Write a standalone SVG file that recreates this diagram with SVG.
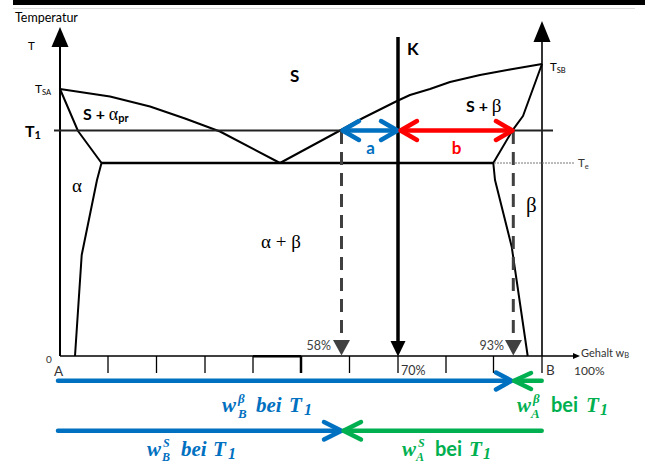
<svg xmlns="http://www.w3.org/2000/svg" width="645" height="463" viewBox="0 0 645 463">
<style>
.ln{fill:none;stroke:#000;stroke-width:2;stroke-linejoin:round}
.ax{fill:none;stroke:#000;stroke-width:2}
.tk{fill:none;stroke:#000;stroke-width:1.3}
.dash{fill:none;stroke:#404040;stroke-width:3;stroke-dasharray:13 8}
.sans{font-family:Lato,"Liberation Sans",sans-serif}
.b{font-weight:bold}
.gr{font-family:"Liberation Serif","DejaVu Serif",serif}
.math{font-family:"Liberation Serif","DejaVu Serif",serif;font-weight:bold;font-style:italic}
.blue{fill:#0070C0}
.green{fill:#00B050}
.sB{stroke:#0070C0}
.sR{stroke:#FF0000}
.sG{stroke:#00B050}
.arr{fill:none;stroke-width:4.5;stroke-linecap:round;stroke-linejoin:round}
</style>
<rect width="645" height="463" fill="#fff"/>
<rect x="13" y="0" width="632" height="5" fill="#000"/>
<line x1="13" y1="8.5" x2="635" y2="8.5" stroke="#ddd" stroke-width="1"/>

<g id="axes">
<line class="ax" x1="60" y1="45" x2="60" y2="356"/>
<polygon points="51.5,47 68.5,47 60,27"/>
<line class="ax" x1="542" y1="40" x2="542" y2="356" style="stroke-width:1.6"/>
<polygon points="533.5,42 550.5,42 542,21"/>
<line class="ax" x1="60" y1="356" x2="575" y2="356" style="stroke-width:1.6"/>
<line x1="253" y1="356.3" x2="301" y2="356.3" stroke="#000" stroke-width="2.4"/>
<polygon points="573,353 580,356 573,359"/>
<g class="tk">
<line x1="108" y1="356" x2="108" y2="373"/>
<line x1="156.5" y1="356" x2="156.5" y2="373"/>
<line x1="205" y1="356" x2="205" y2="373"/>
<line x1="253" y1="356" x2="253" y2="373"/>
<line x1="301" y1="356" x2="301" y2="373" style="stroke-width:2.5"/>
<line x1="349.5" y1="356" x2="349.5" y2="373"/>
<line x1="398" y1="356" x2="398" y2="373"/>
<line x1="446" y1="356" x2="446" y2="373"/>
<line x1="493.5" y1="356" x2="493.5" y2="373"/>
<line x1="542" y1="356" x2="542" y2="373"/>
</g>
</g>

<g id="phase-lines">
<polyline class="ln" points="60,89 110,96.5 150,106.5 185,118.5 220,131.5 280,163 341,130 363,118 397,101 410,95 430,89 450,82 480,75 510,69.5 542,64"/>
<polyline class="ln" points="60,89 78,131 101.5,163 97,180 81.7,255 75,356"/>
<polyline class="ln" points="542,64 523,116 512.3,130.7 493.3,163 495,180 511.7,246.7 527.7,356"/>
<line class="ln" x1="101" y1="163" x2="493.5" y2="163" style="stroke-width:2.4"/>
<line class="ln" x1="54" y1="130.5" x2="553" y2="130.5" style="stroke:#222;stroke-width:1.8"/>
<line x1="494" y1="163" x2="575" y2="163" stroke="#777" stroke-width="1" stroke-dasharray="2 1"/>
</g>

<g id="connectors">
<line x1="341.5" y1="131" x2="341.5" y2="341" class="dash"/>
<polygon points="333,340 350,340 341.5,355.5" fill="#404040"/>
<line x1="513.3" y1="131" x2="513.3" y2="341" class="dash"/>
<polygon points="505,340 522,340 513.3,355.5" fill="#404040"/>
<line x1="398" y1="37" x2="398" y2="344" stroke="#000" stroke-width="3.5"/>
<polygon points="390.5,341 405.5,341 398,356.5"/>
<g class="arr sB">
<line x1="344" y1="130.5" x2="396" y2="130.5"/>
<polyline points="359,121 342.5,130.5 359,140"/>
<polyline points="381,121 397.5,130.5 381,140"/>
</g>
<g class="arr sR">
<line x1="402" y1="130.5" x2="511" y2="130.5"/>
<polyline points="417,121 400.5,130.5 417,140"/>
<polyline points="496,121 512.5,130.5 496,140"/>
</g>
<g class="arr sB">
<line x1="58" y1="380.7" x2="510" y2="380.7"/>
<polyline points="496,372.5 511.5,380.7 496,389.5"/>
<line x1="58" y1="430.7" x2="340" y2="430.7"/>
<polyline points="324,422 341.5,430.7 324,439.5"/>
</g>
<g class="arr sG">
<line x1="515" y1="380.7" x2="541.7" y2="380.7"/>
<polyline points="531,373 514,380.7 531,389"/>
<line x1="344" y1="430.7" x2="541.7" y2="430.7"/>
<polyline points="361,422 343.5,430.7 361,439.5"/>
</g>
</g>

<g id="labels">
<text class="sans" x="15" y="22" font-size="12.5">Temperatur</text>
<text class="sans" x="28" y="50" font-size="11.5">T</text>
<text class="sans" x="35" y="93" font-size="12">T<tspan font-size="7.5" dy="2">SA</tspan></text>
<text class="sans b" x="25" y="136.5" font-size="16">T<tspan font-size="11" dy="2">1</tspan></text>
<text class="sans b" x="83" y="119.5" font-size="16">S + <tspan class="gr" font-weight="normal" font-size="18">α</tspan><tspan font-size="11" dy="2">pr</tspan></text>
<text class="sans b" x="290" y="82" font-size="17">S</text>
<text class="sans b" x="407" y="55" font-size="17">K</text>
<text class="sans b" x="466" y="111.5" font-size="16">S + <tspan class="gr" font-weight="normal" font-size="19">β</tspan></text>
<text class="sans" x="550" y="71" font-size="11.5">T<tspan font-size="7.5" dy="2">SB</tspan></text>
<text class="sans" x="578" y="167" font-size="11.5" fill="#333">T<tspan font-size="7.5" dy="2">e</tspan></text>
<text class="gr" x="72" y="192" font-size="19">α</text>
<text class="gr" x="526" y="212" font-size="21">β</text>
<text class="gr" x="261" y="248" font-size="19">α + β</text>
<text class="b sans blue" x="370.5" y="154" font-size="17" text-anchor="middle">a</text>
<text class="b sans" x="456.5" y="154" font-size="17" text-anchor="middle" fill="#FF0000">b</text>
<text class="sans" x="331" y="350" font-size="12.5" fill="#404040" text-anchor="end">58%</text>
<text class="sans" x="504" y="350" font-size="12.5" fill="#404040" text-anchor="end">93%</text>
<text class="sans" x="46" y="363" font-size="10" fill="#333">0</text>
<text class="sans" x="54" y="375.5" font-size="13.5" fill="#333">A</text>
<text class="sans" x="401" y="374.5" font-size="12.5" fill="#333">70%</text>
<text class="sans" x="546" y="375" font-size="13.5" fill="#333">B</text>
<text class="sans" x="574" y="374.5" font-size="12" fill="#333">100%</text>
<text class="sans" x="581" y="357" font-size="11" fill="#333">Gehalt w<tspan font-size="7.5" dy="1">B</tspan></text>

<text class="math blue" font-size="21"><tspan x="222" y="412">w</tspan><tspan x="238" y="403" font-size="13">β</tspan><tspan x="238" y="418" font-size="13">B</tspan><tspan x="256" y="412">bei</tspan><tspan x="289" y="412">T</tspan><tspan x="304" y="415" font-size="16">1</tspan></text>
<text class="math blue" font-size="21"><tspan x="147" y="456">w</tspan><tspan x="163" y="447" font-size="12">S</tspan><tspan x="162" y="460.5" font-size="12">B</tspan><tspan x="181" y="456">bei</tspan><tspan x="213" y="456">T</tspan><tspan x="228" y="459" font-size="16">1</tspan></text>
<text class="math green" font-size="21"><tspan x="517" y="412">w</tspan><tspan x="533" y="403" font-size="13">β</tspan><tspan x="531" y="418" font-size="13">A</tspan><tspan class="sans" font-style="normal" x="551" y="412" font-size="20">bei</tspan><tspan x="586" y="412">T</tspan><tspan x="600" y="415" font-size="16">1</tspan></text>
<text class="math green" font-size="21"><tspan x="402" y="456">w</tspan><tspan x="418" y="447" font-size="12">S</tspan><tspan x="416" y="460.5" font-size="12">A</tspan><tspan class="sans" font-style="normal" x="435" y="456" font-size="20">bei</tspan><tspan x="469" y="456">T</tspan><tspan x="483" y="459" font-size="16">1</tspan></text>
</g>
</svg>
